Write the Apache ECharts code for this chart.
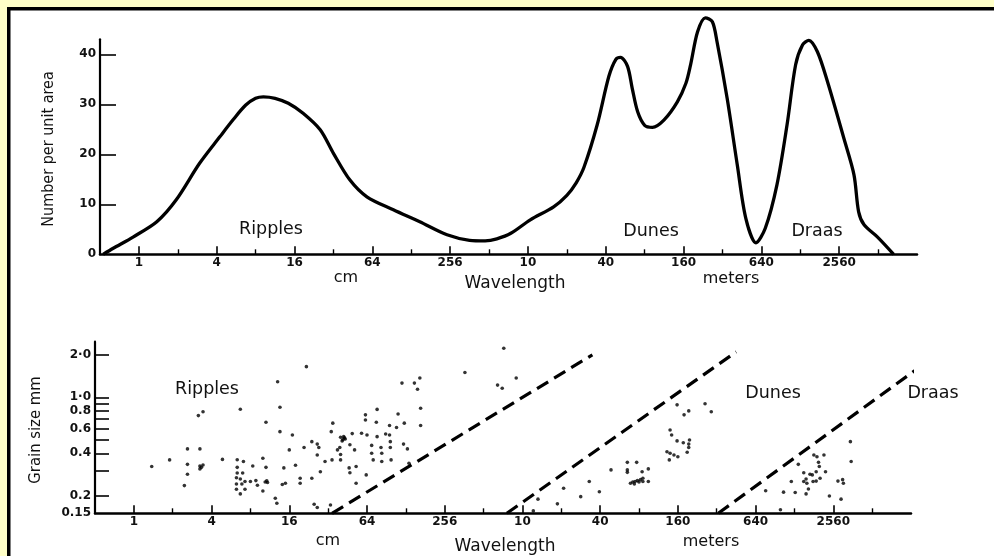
<!DOCTYPE html>
<html>
<head>
<meta charset="utf-8">
<script src="https://cdn.jsdelivr.net/npm/echarts@6/dist/echarts.min.js"></script>
<style>
html,body{margin:0;padding:0;background:#fff;}
#chart{width:994px;height:556px;}
</style>
</head>
<body>
<div id="chart"></div>
<script>
// Wavelength positions are log4(wavelength in cm): 0 = 1 cm, 5 = 1024 cm (~10 m), 9 = 2560 m
const wavelengthTickPos = [0, 1, 2, 3, 4, 5, 6, 7, 8, 9];
const wavelengthTickLabels = ['1', '4', '16', '64', '256', '10', '40', '160', '640', '2560'];
const wavelengthMinorPos = [0.5, 1.5, 2.5, 3.5, 4.5, 5.5, 6.5, 7.5, 8.5, 9.5];

const countTickValues = [10, 20, 30, 40];
const countLabelValues = [0, 10, 20, 30, 40];

// Top panel: frequency curve [log4 wavelength, number per unit area]
const bedformCurve = [
  [-0.46, 0], [-0.33, 1.2], [-0.07, 3.5], [0.23, 6.5], [0.48, 10.9], [0.78, 18.2], [1.04, 23.5],
  [1.21, 26.9], [1.37, 29.8], [1.50, 31.2], [1.60, 31.5], [1.75, 31.2], [1.92, 30.2], [2.11, 28.2],
  [2.33, 24.9], [2.50, 20.2], [2.71, 14.9], [2.93, 11.5], [3.27, 8.9], [3.61, 6.5], [3.96, 3.9],
  [4.25, 2.8], [4.45, 2.7], [4.60, 3.1], [4.78, 4.2], [5.03, 6.9], [5.33, 9.5], [5.50, 11.8],
  [5.62, 14.3], [5.72, 17.4], [5.89, 25.9], [6.04, 35.6], [6.13, 39.0], [6.19, 39.4], [6.28, 37.6],
  [6.34, 33.2], [6.41, 28.5], [6.50, 25.8], [6.60, 25.4], [6.75, 26.9], [6.92, 30.5], [7.03, 34.2],
  [7.09, 37.9], [7.18, 44.5], [7.28, 47.3], [7.37, 46.5], [7.43, 42.5], [7.56, 31.2], [7.69, 17.9],
  [7.80, 7.2], [7.93, 2.3], [8.05, 5.2], [8.20, 13.9], [8.33, 25.9], [8.44, 37.9], [8.53, 41.9],
  [8.61, 42.8], [8.72, 40.5], [8.85, 34.5], [9.06, 23.2], [9.19, 15.9], [9.25, 8.5], [9.32, 5.9],
  [9.49, 3.5], [9.70, 0]
];

// Bottom panel: grain size (mm) ticks and labels
const grainTickValues = [0.2, 0.3, 0.4, 0.5, 0.6, 0.7, 0.8, 0.9, 1.0, 2.0];
const grainLabelValues = [0.15, 0.2, 0.4, 0.6, 0.8, 1.0, 2.0];
const grainLabelTexts = ['0.15', '0.2', '0.4', '0.6', '0.8', '1·0', '2·0'];
const grainMin = 0.15;
const grainMax = 2.48;

// Scatter points [log4 wavelength, grain size mm]
const ripplePoints = [
  [0.23, 0.322], [0.46, 0.359], [0.69, 0.43], [0.85, 0.43], [0.69, 0.334], [0.69, 0.284], [0.65, 0.236],
  [0.83, 0.741], [0.89, 0.79], [0.85, 0.325], [0.89, 0.33], [0.85, 0.31], [0.87, 0.318], [1.14, 0.362],
  [1.37, 0.822], [1.33, 0.36], [1.41, 0.35], [1.53, 0.325], [1.33, 0.318], [1.33, 0.29], [1.40, 0.29],
  [1.32, 0.268], [1.37, 0.263], [1.32, 0.242], [1.39, 0.242], [1.43, 0.252], [1.50, 0.252], [1.57, 0.256],
  [1.59, 0.237], [1.32, 0.222], [1.43, 0.222], [1.37, 0.206], [1.66, 0.369], [1.70, 0.318], [1.69, 0.25],
  [1.71, 0.255], [1.72, 0.248], [1.66, 0.216], [1.82, 0.192], [1.84, 0.177], [1.85, 1.29], [1.88, 0.85],
  [1.88, 0.57], [1.70, 0.665], [1.93, 0.315], [1.91, 0.24], [1.95, 0.245], [2.04, 0.54], [2.00, 0.423],
  [2.08, 0.329], [2.14, 0.266], [2.14, 0.245], [2.22, 1.65], [2.19, 0.44], [2.29, 0.484], [2.29, 0.266],
  [2.36, 0.465], [2.38, 0.44], [2.36, 0.389], [2.40, 0.296], [2.46, 0.35], [2.32, 0.174], [2.36, 0.165],
  [2.53, 0.172], [2.54, 0.57], [2.56, 0.655], [2.55, 0.359], [2.66, 0.359], [2.62, 0.423], [2.65, 0.44],
  [2.66, 0.392], [2.66, 0.52], [2.69, 0.50], [2.70, 0.525], [2.72, 0.505], [2.68, 0.49], [2.71, 0.515],
  [2.78, 0.46], [2.81, 0.552], [2.84, 0.423], [2.77, 0.315], [2.78, 0.291], [2.86, 0.322], [2.86, 0.245],
  [2.99, 0.281], [2.98, 0.75], [2.98, 0.69], [2.93, 0.555], [3.00, 0.54], [3.13, 0.82], [3.12, 0.665],
  [3.13, 0.525], [3.06, 0.455], [3.06, 0.40], [3.08, 0.359], [3.18, 0.44], [3.19, 0.40], [3.19, 0.35],
  [3.24, 0.548], [3.29, 0.54], [3.30, 0.484], [3.30, 0.44], [3.31, 0.359], [3.29, 0.63], [3.38, 0.61],
  [3.40, 0.76], [3.45, 1.26], [3.48, 0.655], [3.47, 0.465], [3.52, 0.43], [3.54, 0.34], [3.61, 1.26],
  [3.65, 1.14], [3.68, 1.37], [3.69, 0.835], [3.69, 0.63], [4.26, 1.50], [4.76, 2.23], [4.68, 1.22],
  [4.74, 1.16], [4.92, 1.37]
];
const dunePoints = [
  [5.14, 0.156], [5.20, 0.189], [5.45, 0.175], [5.53, 0.226], [5.75, 0.197], [5.86, 0.252], [5.99, 0.2135],
  [6.14, 0.305], [6.35, 0.345], [6.47, 0.345], [6.35, 0.305], [6.35, 0.293], [6.54, 0.296], [6.62, 0.31],
  [6.55, 0.266], [6.39, 0.245], [6.42, 0.25], [6.45, 0.252], [6.48, 0.256], [6.50, 0.25], [6.52, 0.26],
  [6.55, 0.252], [6.44, 0.242], [6.62, 0.252], [6.90, 0.586], [6.99, 0.883], [6.92, 0.54], [6.99, 0.49],
  [7.08, 0.75], [7.14, 0.80], [7.15, 0.497], [7.14, 0.465], [7.07, 0.475], [7.14, 0.44], [7.12, 0.407],
  [6.86, 0.41], [6.90, 0.40], [6.95, 0.389], [6.89, 0.359], [7.00, 0.378], [7.35, 0.90], [7.43, 0.79]
];
const draaPoints = [
  [8.32, 0.159], [8.13, 0.217], [8.36, 0.212], [8.51, 0.211], [8.46, 0.252], [8.55, 0.334], [8.62, 0.291],
  [8.65, 0.263], [8.66, 0.245], [8.62, 0.252], [8.68, 0.223], [8.65, 0.206], [8.70, 0.284], [8.74, 0.252],
  [8.78, 0.254], [8.75, 0.389], [8.79, 0.378], [8.81, 0.345], [8.82, 0.322], [8.88, 0.389], [8.78, 0.296],
  [8.83, 0.266], [8.90, 0.296], [8.73, 0.281], [8.95, 0.199], [9.06, 0.254], [9.12, 0.26], [9.13, 0.245],
  [9.10, 0.189], [9.22, 0.484], [9.23, 0.35]
];

// Boundary lines [log4 wavelength, grain size mm]
const rippleDuneBoundary = [[2.55, 0.15], [5.90, 2.0]];
const duneDraaBoundary = [[4.80, 0.15], [7.75, 2.1]];
const draaBoundary = [[7.52, 0.15], [10.30, 1.95]];

// ---------- build ----------
const lg = v => Math.log10(v);
const toLogPts = pts => pts.map(p => [p[0], lg(p[1])]);
const allScatter = ripplePoints.concat(dunePoints, draaPoints);

const tickFont = 'DejaVu Sans';
const textFont = 'DejaVu Sans';
const narrowFont = "'Liberation Sans Narrow', 'DejaVu Sans Condensed', sans-serif";

function xAxes(gridIndex) {
  return [
    {
      type: 'value', gridIndex: gridIndex, min: -0.5, max: 10, position: 'bottom',
      axisLine: { show: true, onZero: false, lineStyle: { color: '#000', width: 2.5 } },
      axisTick: { show: true, inside: true, length: 8, customValues: wavelengthTickPos, lineStyle: { color: '#000', width: 1.6 } },
      axisLabel: {
        show: true, customValues: wavelengthTickPos, margin: 3,
        formatter: v => wavelengthTickLabels[Math.round(v)],
        fontFamily: tickFont, fontSize: 12, fontWeight: 'bold', color: '#111'
      },
      splitLine: { show: false }
    },
    {
      type: 'value', gridIndex: gridIndex, min: -0.5, max: 10, position: 'bottom',
      axisLine: { show: false, onZero: false },
      axisTick: { show: true, inside: true, length: 5, customValues: wavelengthMinorPos, lineStyle: { color: '#000', width: 1.4 } },
      axisLabel: { show: false },
      splitLine: { show: false }
    }
  ];
}

const chart = echarts.init(document.getElementById('chart'), null, { renderer: 'canvas' });

function txt(text, x, y, size, font, rot) {
  return {
    type: 'text', x: x, y: y, rotation: rot || 0, z: 10,
    style: { text: text, x: 0, y: 0, fill: '#111', font: size + 'px ' + font, textAlign: 'center', textVerticalAlign: 'middle' }
  };
}

const option = {
  backgroundColor: '#ffffff',
  animation: false,
  grid: [
    { left: 100, top: 39.3, width: 817, height: 215, outerBoundsMode: 'none', containLabel: false },
    { left: 95, top: 341.7, width: 816, height: 171.6, outerBoundsMode: 'none', containLabel: false }
  ],
  xAxis: xAxes(0).concat(xAxes(1)),
  yAxis: [
    {
      type: 'value', gridIndex: 0, min: 0, max: 43, position: 'left',
      axisLine: { show: true, onZero: false, lineStyle: { color: '#000', width: 2.2 } },
      axisTick: { show: true, inside: true, length: 16, customValues: countTickValues, lineStyle: { color: '#000', width: 1.6 } },
      axisLabel: { show: true, customValues: countLabelValues, margin: 4, fontFamily: tickFont, fontSize: 12, fontWeight: 'bold', color: '#111' },
      splitLine: { show: false }
    },
    {
      type: 'value', gridIndex: 1, min: lg(grainMin), max: lg(grainMax), position: 'left',
      axisLine: { show: true, onZero: false, lineStyle: { color: '#000', width: 2.2 } },
      axisTick: { show: true, inside: true, length: 14, customValues: grainTickValues.map(lg), lineStyle: { color: '#000', width: 1.6 } },
      axisLabel: {
        show: true, customValues: grainLabelValues.map(lg), margin: 4, fontFamily: tickFont, fontSize: 12, fontWeight: 'bold', color: '#111',
        formatter: v => {
          let best = 0, bd = Infinity;
          grainLabelValues.forEach((g, i) => { const d = Math.abs(lg(g) - v); if (d < bd) { bd = d; best = i; } });
          return grainLabelTexts[best];
        }
      },
      splitLine: { show: false }
    }
  ],
  series: [
    {
      type: 'line', xAxisIndex: 0, yAxisIndex: 0, data: bedformCurve, smooth: 0.3, clip: false,
      showSymbol: false, symbol: 'none', lineStyle: { color: '#000', width: 3.3 }
    },
    {
      type: 'scatter', xAxisIndex: 2, yAxisIndex: 1, data: toLogPts(allScatter), symbol: 'circle', symbolSize: 3.6,
      itemStyle: { color: '#000' }
    },
    {
      type: 'line', xAxisIndex: 2, yAxisIndex: 1, data: toLogPts(rippleDuneBoundary), clip: false, symbol: 'none',
      lineStyle: { color: '#000', width: 3.2, type: [13, 7] }
    },
    {
      type: 'line', xAxisIndex: 2, yAxisIndex: 1, data: toLogPts(duneDraaBoundary), clip: false, symbol: 'none',
      lineStyle: { color: '#000', width: 3.2, type: [13, 7] }
    },
    {
      type: 'line', xAxisIndex: 2, yAxisIndex: 1, data: toLogPts(draaBoundary), clip: false, symbol: 'none',
      lineStyle: { color: '#000', width: 3.2, type: [13, 7] }
    }
  ],
  graphic: [
    { type: 'rect', shape: { x: 0, y: 0, width: 994, height: 7 }, style: { fill: '#FFFFC8' }, z: 1 },
    { type: 'rect', shape: { x: 0, y: 0, width: 7, height: 556 }, style: { fill: '#FFFFC8' }, z: 1 },
    { type: 'rect', shape: { x: 7, y: 7, width: 987, height: 3.5 }, style: { fill: '#000' }, z: 2 },
    { type: 'rect', shape: { x: 7, y: 7, width: 3.5, height: 549 }, style: { fill: '#000' }, z: 2 },
    txt('Ripples', 271, 229, 17.5, textFont),
    txt('Dunes', 651, 231, 17.5, textFont),
    txt('Draas', 817, 231, 17.5, textFont),
    txt('cm', 346, 278, 16, textFont),
    txt('Wavelength', 515, 284, 17, textFont),
    txt('meters', 731, 279, 16, textFont),
    txt('Number per unit area', 49, 149, 16, narrowFont, Math.PI / 2),
    txt('Ripples', 207, 389, 17.5, textFont),
    txt('Dunes', 773, 393, 17.5, textFont),
    txt('Draas', 933, 393, 17.5, textFont),
    txt('cm', 328, 541, 16, textFont),
    txt('Wavelength', 505, 547, 17, textFont),
    txt('meters', 711, 542, 16, textFont),
    txt('Grain size mm', 36, 430, 16.5, narrowFont, Math.PI / 2)
  ]
};
chart.setOption(option);
</script>
</body>
</html>
